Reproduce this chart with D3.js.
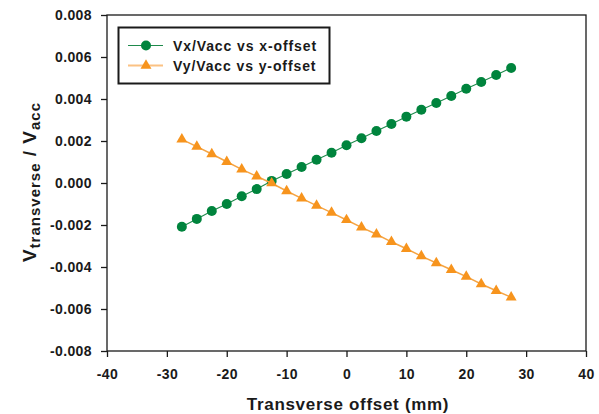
<!DOCTYPE html>
<html>
<head>
<meta charset="utf-8">
<script src="https://cdn.jsdelivr.net/npm/d3@7"></script>
<style>
  html, body { margin: 0; padding: 0; background: #fff; }
  text { font-family: 'Liberation Sans', Arial, sans-serif; font-weight: bold; fill: #1a1a1a; }
</style>
</head>
<body>
<script>
// offsets in mm (units of 1e-3)
const offsets = [-27.5, -25, -22.5, -20, -17.5, -15, -12.5, -10, -7.5, -5, -2.5, 0,
  2.5, 5, 7.5, 10, 12.5, 15, 17.5, 20, 22.5, 25, 27.5]
const vxValues = [-2.08, -1.71, -1.33, -1.00, -0.63, -0.29, 0.10, 0.43, 0.76, 1.11, 1.44, 1.80,
  2.13, 2.48, 2.81, 3.16, 3.49, 3.81, 4.14, 4.49, 4.81, 5.14, 5.48]
const vyValues = [2.08, 1.73, 1.38, 1.01, 0.65, 0.32, -0.01, -0.38, -0.73, -1.08, -1.41, -1.76,
  -2.11, -2.44, -2.80, -3.13, -3.48, -3.81, -4.13, -4.46, -4.81, -5.13, -5.44]
const xTicks = [-40, -30, -20, -10, 0, 10, 20, 30, 40]
const yTicks = [-0.008, -0.006, -0.004, -0.002, 0, 0.002, 0.004, 0.006, 0.008]
const seriesNames = ['Vx/Vacc vs x-offset', 'Vy/Vacc vs y-offset']

const width = 599
const height = 414
const plot = { left: 107, right: 586, top: 15, bottom: 351 }

const colors = {
  green: '#00843d',
  greenLine: '#1f8a4c',
  orange: '#f7941d',
  orangeLine: '#f5a443',
  orangeLegend: '#fbc283',
}

// plain hyphen for negatives, like the original
const hyphen = (fmt) => (v) => fmt(v).replace('\u2212', '-')

const svg = d3.select('body').append('svg')
  .attr('width', width)
  .attr('height', height)

const x = d3.scaleLinear().domain([-40, 40]).range([plot.left, plot.right])
const y = d3.scaleLinear().domain([-0.008, 0.008]).range([plot.bottom, plot.top])

const series = [
  { name: seriesNames[0], values: vxValues, color: colors.green, line: colors.greenLine, shape: 'circle' },
  { name: seriesNames[1], values: vyValues, color: colors.orange, line: colors.orangeLine, shape: 'triangle' },
]

// axes
const xAxis = svg.append('g')
  .attr('transform', `translate(0, ${plot.bottom})`)
  .call(d3.axisBottom(x).tickValues(xTicks).tickSize(6).tickPadding(9)
    .tickFormat(hyphen(d3.format('d'))))
const yAxis = svg.append('g')
  .attr('transform', `translate(${plot.left}, 0)`)
  .call(d3.axisLeft(y).tickValues(yTicks).tickSize(6).tickPadding(9)
    .tickFormat(hyphen(d3.format('.3f'))))

;[xAxis, yAxis].forEach((g) => {
  g.select('.domain').remove()
  g.selectAll('.tick line').attr('stroke', '#1a1a1a').attr('stroke-width', 1.3)
  g.selectAll('.tick text')
    .style('font-size', '14px')
    .style('letter-spacing', '0.4px')
    .attr('fill', '#1a1a1a')
})
xAxis.selectAll('.tick text').attr('dy', '0.9em')

// frame
svg.append('rect')
  .attr('x', plot.left)
  .attr('y', plot.top)
  .attr('width', plot.right - plot.left)
  .attr('height', plot.bottom - plot.top)
  .attr('fill', 'none')
  .attr('stroke', '#1a1a1a')
  .attr('stroke-width', 1.3)

// series
const line = d3.line()
  .x((d) => x(d[0]))
  .y((d) => y(d[1]))

const drawMarker = (g, s, px, py) => {
  if (s.shape === 'circle') {
    g.append('circle')
      .attr('cx', px)
      .attr('cy', py)
      .attr('r', 5)
      .attr('fill', s.color)
  } else {
    g.append('path')
      .attr('d', d3.symbol(d3.symbolTriangle, 52)())
      .attr('transform', `translate(${px}, ${py})`)
      .attr('fill', s.color)
  }
}

series.forEach((s) => {
  const pts = offsets.map((o, i) => [o, s.values[i] / 1000])
  const g = svg.append('g')

  g.append('path')
    .datum(pts)
    .attr('d', line)
    .attr('fill', 'none')
    .attr('stroke', s.line)
    .attr('stroke-width', s.shape === 'circle' ? 1.1 : 1.5)

  pts.forEach((p) => drawMarker(g, s, x(p[0]), y(p[1])))
})

// legend
const legend = svg.append('g')
legend.append('rect')
  .attr('x', 118.5)
  .attr('y', 27.5)
  .attr('width', 211)
  .attr('height', 56)
  .attr('fill', '#fff')
  .attr('stroke', '#1a1a1a')
  .attr('stroke-width', 2)

series.forEach((s, i) => {
  const ly = 45.5 + i * 20
  legend.append('line')
    .attr('x1', 128)
    .attr('x2', 163)
    .attr('y1', ly)
    .attr('y2', ly)
    .attr('stroke', s.shape === 'circle' ? s.line : colors.orangeLegend)
    .attr('stroke-width', s.shape === 'circle' ? 1.2 : 2.2)
  drawMarker(legend, s, 146, ly)
  legend.append('text')
    .attr('x', 173)
    .attr('y', ly + 5)
    .style('font-size', '14px')
    .style('letter-spacing', '0.9px')
    .text(s.name)
})

// axis titles
svg.append('text')
  .attr('x', 348)
  .attr('y', 410)
  .attr('text-anchor', 'middle')
  .style('font-size', '17px')
  .style('letter-spacing', '0.7px')
  .text('Transverse offset (mm)')

const yTitle = svg.append('text')
  .attr('transform', 'translate(36, 182) rotate(-90)')
  .attr('text-anchor', 'middle')
  .style('letter-spacing', '1px')
yTitle.append('tspan').style('font-size', '19px').text('V')
yTitle.append('tspan').style('font-size', '15px').attr('dy', 4).text('transverse')
yTitle.append('tspan').style('font-size', '19px').attr('dy', -4).text(' / V')
yTitle.append('tspan').style('font-size', '15px').attr('dy', 4).text('acc')
</script>
</body>
</html>
